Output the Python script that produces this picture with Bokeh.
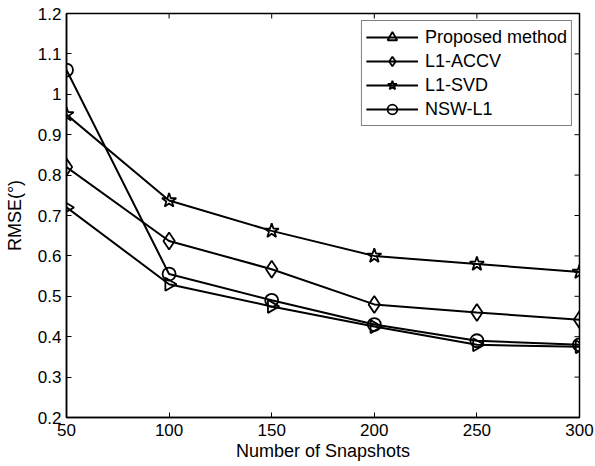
import math
from bokeh.plotting import figure
from bokeh.models import Range1d, FixedTicker, Legend, LegendItem
from bokeh.embed import file_html
from bokeh.resources import INLINE

snapshots = [50, 100, 150, 200, 250, 300]
proposed = [0.72, 0.530, 0.475, 0.425, 0.380, 0.375]
l1_accv = [0.82, 0.637, 0.567, 0.480, 0.460, 0.442]
l1_svd = [0.95, 0.737, 0.662, 0.600, 0.580, 0.560]
nsw_l1 = [1.06, 0.555, 0.490, 0.430, 0.390, 0.380]

x_ticks = [50, 100, 150, 200, 250, 300]
y_ticks = [0.2, 0.3, 0.4, 0.5, 0.6, 0.7, 0.8, 0.9, 1.0, 1.1, 1.2]
y_tick_labels = ["0.2", "0.3", "0.4", "0.5", "0.6", "0.7", "0.8", "0.9", "1", "1.1", "1.2"]

FONT = "Liberation Sans"

p = figure(width=595, height=466, output_backend="svg", toolbar_location=None,
           x_range=Range1d(x_ticks[0], x_ticks[-1]), y_range=Range1d(y_ticks[0], y_ticks[-1]),
           min_border_left=66, min_border_right=16, min_border_top=13, min_border_bottom=49)
p.grid.visible = False
p.outline_line_color = "black"
p.outline_line_width = 1.5

for ax in (p.xaxis[0], p.yaxis[0]):
    ax.major_tick_in = 5
    ax.major_tick_out = 0
    ax.minor_tick_in = 0
    ax.minor_tick_out = 0
    ax.axis_line_width = 1.5
    ax.major_tick_line_width = 1
    ax.major_label_text_font = FONT
    ax.major_label_text_font_size = "17px"
    ax.major_label_text_color = "black"
    ax.axis_label_text_font = FONT
    ax.axis_label_text_font_size = "18px"
    ax.axis_label_text_font_style = "normal"
    ax.axis_label_text_color = "black"

p.xaxis.ticker = FixedTicker(ticks=x_ticks)
p.yaxis.ticker = FixedTicker(ticks=y_ticks)
p.yaxis.major_label_overrides = {t: l for t, l in zip(y_ticks, y_tick_labels)}
p.xaxis.axis_label = "Number of Snapshots"
p.yaxis.axis_label = "RMSE(°)"
p.xaxis.major_label_standoff = 6
p.yaxis.major_label_standoff = 5
p.xaxis.axis_label_standoff = 2
p.yaxis.axis_label_standoff = 10

# inward ticks on the top and right edges of the box
p.ray(x=x_ticks, y=[y_ticks[-1]] * len(x_ticks), length=5, length_units="screen",
      angle=-math.pi / 2, line_color="black", line_width=1)
p.ray(x=[x_ticks[-1]] * len(y_ticks), y=y_ticks, length=5, length_units="screen",
      angle=math.pi, line_color="black", line_width=1)

series = [
    ("Proposed method", proposed, "triangle", -math.pi / 2, 13),
    ("L1-ACCV", l1_accv, "diamond", 0, 17),
    ("L1-SVD", l1_svd, "star", 0, 15),
    ("NSW-L1", nsw_l1, "circle", 0, 13),
]

items = []
for name, ys, marker, ang, sz in series:
    ln = p.line(snapshots, ys, line_color="black", line_width=2)
    sc = p.scatter(snapshots, ys, marker=marker, angle=ang, size=sz,
                   fill_color=None, line_color="black", line_width=1.8)
    items.append(LegendItem(label=name, renderers=[ln, sc]))

legend = Legend(items=items, location="top_right")
legend.margin = 7
legend.padding = 4
legend.spacing = 0
legend.glyph_width = 52
legend.glyph_height = 24
legend.label_height = 24
legend.label_standoff = 7
legend.label_text_font = FONT
legend.label_text_font_size = "18px"
legend.label_text_color = "black"
legend.border_line_color = "black"
legend.border_line_width = 1
legend.background_fill_color = "white"
legend.background_fill_alpha = 1
p.add_layout(legend, "center")

open("out.html", "w").write(file_html(p, INLINE))
